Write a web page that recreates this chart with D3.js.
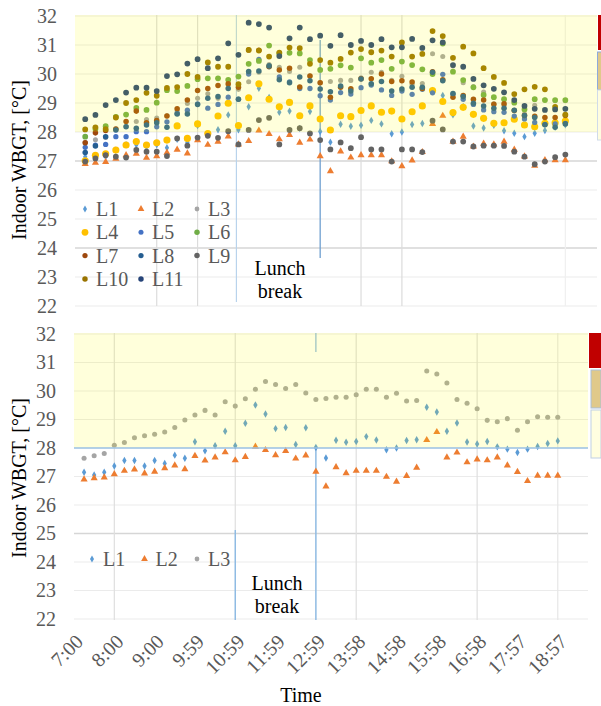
<!DOCTYPE html>
<html><head><meta charset="utf-8">
<script src="https://cdn.jsdelivr.net/npm/d3@7"></script>
<style>
body{margin:0;background:#fff}
svg text{font-family:"Liberation Serif","DejaVu Serif","Noto Serif",serif !important}
</style>
</head><body>
<svg id="c" width="601" height="706"></svg>
<script>
// ---- data ----
const tickLabels = ["7:00","8:00","9:00","9:59","10:59","11:59","12:59","13:58","14:58","15:58","16:58","17:57","18:57"];
const yTicks = [22,23,24,25,26,27,28,29,30,31,32];
const seriesNames = ["L1","L2","L3","L4","L5","L6","L7","L8","L9","L10","L11"];

const L1 = [27.15,27.05,27.15,27.37,27.56,27.56,27.37,27.56,27.46,27.75,27.64,28.22,27.90,28.08,28.59,28.08,28.87,29.51,29.19,28.68,28.72,28.12,28.71,28.02,27.65,28.27,28.20,28.23,28.40,28.28,27.94,28.00,28.26,28.29,29.43,29.26,28.59,28.88,28.21,28.14,28.23,28.04,27.96,27.84,27.96,28.05,28.16,28.25];
const L2 = [26.90,26.94,26.97,27.08,27.20,27.25,27.11,27.17,27.29,27.39,27.26,27.72,27.56,27.67,27.85,27.57,27.69,28.05,27.93,27.75,27.90,27.63,27.74,27.17,26.65,27.33,27.12,27.20,27.20,27.20,26.99,26.82,27.02,27.31,28.28,28.56,27.67,27.84,27.50,27.60,27.57,27.67,27.39,27.16,26.84,27.03,27.03,27.03];
const L3 = [27.64,27.73,27.81,28.10,28.19,28.36,28.43,28.48,28.56,28.72,28.98,29.16,29.32,29.16,29.62,29.47,29.73,30.06,30.33,30.23,30.09,30.23,29.93,29.70,29.74,29.78,29.78,29.87,30.06,30.06,29.78,29.92,29.65,29.67,30.70,30.60,30.28,29.70,29.57,29.38,28.97,28.92,29.03,28.62,28.92,29.10,29.08,29.08];
const L4 = [27.01,27.20,27.25,27.38,27.55,27.67,27.55,27.63,27.72,28.21,27.78,28.28,27.95,28.55,28.99,28.22,29.18,29.66,29.13,28.87,29.02,28.56,28.90,28.45,28.07,28.56,28.53,28.74,28.90,28.68,28.72,28.45,28.70,28.90,29.43,29.05,28.67,28.85,28.61,28.47,28.30,28.32,28.44,28.24,28.18,28.30,28.32,28.38];
const L5 = [27.47,27.55,27.57,27.84,27.84,28.01,28.01,28.18,28.35,28.64,28.75,28.97,28.82,28.95,29.20,29.13,30.00,30.50,30.25,29.90,29.73,29.50,29.50,29.25,29.10,29.36,29.31,29.53,29.62,29.45,29.26,29.41,29.30,29.47,29.35,29.99,29.30,29.13,28.95,28.76,28.70,28.68,28.55,28.45,28.33,28.26,28.28,28.30];
const L6 = [27.84,28.10,28.20,28.52,28.60,28.83,28.76,29.01,29.44,29.41,29.59,29.82,29.85,29.85,29.80,29.91,30.35,30.45,30.98,30.71,30.73,30.71,30.48,30.14,30.18,30.30,30.22,30.54,30.39,30.48,30.18,30.43,30.31,30.16,30.00,31.05,30.08,29.79,29.54,29.28,29.20,29.13,29.01,28.78,29.13,29.10,29.10,29.10];
const L7 = [27.63,27.97,28.05,28.10,28.36,28.72,28.32,28.40,28.55,28.80,29.10,29.43,29.50,29.60,29.66,29.54,30.83,30.82,30.26,30.14,30.20,29.55,29.93,29.70,29.20,29.54,29.49,29.84,29.84,30.00,29.74,29.77,29.72,29.50,30.08,29.80,29.20,29.26,29.13,29.10,28.96,28.97,28.74,28.57,28.54,28.50,28.50,28.57];
const L8 = [27.29,27.52,27.84,28.07,28.18,28.13,28.24,28.32,28.16,28.62,28.62,28.95,29.16,29.22,29.50,29.13,30.09,30.10,30.28,29.80,29.70,29.90,29.77,29.48,29.39,29.59,29.41,29.83,29.66,29.74,29.41,29.48,29.54,29.54,30.06,29.77,29.33,29.22,28.99,28.90,28.82,28.82,28.75,28.57,28.50,28.25,28.16,28.28];
const L9 = [26.98,27.09,27.20,27.15,27.12,27.38,27.32,27.32,27.17,27.78,27.53,27.81,27.87,27.80,28.03,27.57,28.07,28.41,28.49,27.57,28.07,28.13,27.95,27.72,27.40,27.64,27.44,27.82,27.40,27.40,26.98,27.40,27.40,27.31,28.39,28.09,27.67,27.67,27.50,27.53,27.53,27.52,27.32,27.15,26.89,26.98,27.13,27.22];
const L10 = [28.09,28.16,28.10,28.50,29.00,29.10,29.35,29.25,29.52,29.55,30.00,29.90,30.40,30.25,30.25,29.65,30.83,30.81,30.60,30.74,30.91,30.89,30.35,30.48,30.39,30.52,30.74,30.86,30.75,30.81,30.60,31.09,30.60,30.69,31.48,31.31,30.56,30.94,30.71,30.20,29.90,29.69,29.31,29.47,29.56,29.47,28.87,28.60];
const L11 = [28.44,28.59,28.93,29.10,29.36,29.53,29.53,29.41,29.93,29.99,30.36,30.51,30.20,30.54,31.06,30.66,31.77,31.72,31.60,30.62,31.23,31.60,31.20,31.32,30.97,31.34,31.00,31.14,31.00,31.20,30.92,30.92,31.21,30.90,31.16,31.09,30.31,30.25,29.83,29.61,29.49,29.37,29.10,28.90,28.80,28.76,28.78,28.80];

const seriesData = [L1,L2,L3,L4,L5,L6,L7,L8,L9,L10,L11];

// ---- styling ----
const FONT = "'Liberation Serif','DejaVu Serif','Noto Serif',serif";
const colors = ["#5B9BD5","#ED7D31","#A5A5A5","#FFC000","#4472C4","#70AD47","#9E480E","#255E91","#636363","#997300","#264478"];
const shapes = [d3.symbolDiamond,d3.symbolTriangle,d3.symbolCircle,d3.symbolCircle,d3.symbolCircle,d3.symbolCircle,d3.symbolCircle,d3.symbolCircle,d3.symbolCircle,d3.symbolCircle,d3.symbolCircle];
const sizes  = [16,22,20,40,22,26,24,24,26,26,26];

const svg = d3.select("#c");
const gray = "#595959";

function txt(sel){ return sel.attr("font-family",FONT).style("font-family",FONT).style("font-size","20px"); }

function drawPanel(p){
  const x = d3.scaleLinear().domain([0,51]).range(p.xr);
  const y = d3.scaleLinear().domain([22,32]).range(p.yr);
  const g = svg.append("g");

  g.selectAll("line.h").data(yTicks).join("line")
    .attr("x1",p.xr[0]).attr("x2",p.band[1])
    .attr("y1",d=>y(d)).attr("y2",d=>y(d))
    .attr("stroke",d=>p.strongGrid.includes(d)?"#d6d6d6":"#ebebeb")
    .attr("stroke-width",d=>p.strongGrid.includes(d)?1.5:1);

  p.vlines.forEach(v=>{
    g.append("line").attr("x1",x(v.i)).attr("x2",x(v.i))
      .attr("y1",v.y0).attr("y2",v.y1)
      .attr("stroke",v.c).attr("stroke-width",v.w||1.2);
  });

  p.series.forEach(si=>{
    const sym = d3.symbol().type(shapes[si]).size(sizes[si]);
    g.append("g").selectAll("path").data(seriesData[si]).join("path")
      .attr("d",sym)
      .attr("transform",(d,i)=>`translate(${x(i+1)},${y(d)})`)
      .attr("fill",colors[si]);
  });

  g.append("rect").attr("x",p.xr[0]).attr("y",y(32)-1)
    .attr("width",p.band[1]-p.xr[0]).attr("height",y(28)-y(32)+1)
    .attr("fill","#ffff00").attr("fill-opacity",0.14);

  if(p.blue28){
    g.append("line").attr("x1",p.xr[0]).attr("x2",p.band[1])
      .attr("y1",y(28)).attr("y2",y(28)).attr("stroke","#9dc3e6").attr("stroke-width",1.5);
  }

  p.boxes.forEach(b=>{
    g.append("rect").attr("x",b[0]).attr("y",b[1]).attr("width",b[2]).attr("height",b[3])
      .attr("fill",b[4]).attr("stroke",b[5]||"none").attr("stroke-width",1);
  });

  const ya = d3.axisLeft(y).tickValues(yTicks).tickSize(0).tickPadding(18).tickFormat(d3.format("d"));
  const yg = g.append("g").attr("transform",`translate(${p.xr[0]},0)`).call(ya);
  yg.select(".domain").remove();
  yg.attr("font-family",FONT);
  txt(yg.selectAll("text")).attr("fill",gray);

  txt(g.append("text")).attr("transform",`translate(26,${p.titleY}) rotate(-90)`)
    .attr("text-anchor","middle").attr("fill","#000")
    .text("Indoor WBGT, [°C]");

  txt(g.append("text")).attr("x",p.lunch[0]).attr("y",p.lunch[1]).attr("text-anchor","middle")
    .attr("fill","#000").text("Lunch");
  txt(g.append("text")).attr("x",p.lunch[0]).attr("y",p.lunch[1]+23).attr("text-anchor","middle")
    .attr("fill","#000").text("break");

  p.series.forEach((si,k)=>{
    const col=k%3,row=Math.floor(k/3);
    const mx=p.leg.x+col*p.leg.dx, my=p.leg.y+row*p.leg.dy;
    g.append("path").attr("d",d3.symbol().type(shapes[si]).size(sizes[si]*0.9)())
      .attr("transform",`translate(${mx},${my})`).attr("fill",colors[si]);
    txt(g.append("text")).attr("x",mx+11).attr("y",my+7).attr("fill",gray)
      .text(seriesNames[si]);
  });

  if(p.xaxis){
    const xa = d3.axisBottom(x).tickValues(d3.range(0,49,4)).tickSize(0)
      .tickFormat((d,i)=>tickLabels[i]);
    const xg = g.append("g").attr("transform",`translate(0,${y(22)})`).call(xa);
    xg.select(".domain").remove();
    xg.attr("font-family",FONT);
    txt(xg.selectAll("text")).attr("x",0).attr("y",0).attr("dy","0.35em")
      .attr("transform","translate(5,19) rotate(-45)")
      .attr("text-anchor","end").attr("fill",gray);
    txt(g.append("text")).attr("x",301).attr("y",702).attr("text-anchor","middle")
      .attr("fill","#000").text("Time");
  }
}

const lunchBlue = "#8fbbe3";
drawPanel({
  xr:[75,596], yr:[306,16], band:[75,597], series:[0,1,2,3,4,5,6,7,8,9,10],
  strongGrid:[24,27], blue28:false, titleY:160,
  vlines:[
    {i:8,y0:15,y1:306,c:"#dcdcdc"},{i:12,y0:15,y1:306,c:"#dcdcdc"},
    {i:28,y0:15,y1:306,c:"#dcdcdc"},{i:32,y0:15,y1:306,c:"#dcdcdc"},
    {i:48,y0:15,y1:306,c:"#f0f0f0"},
    {i:15.8,y0:15,y1:302,c:"#b9d3ec"},{i:24,y0:40,y1:258,c:"#6f9fd0",w:1.3}
  ],
  boxes:[[598,15,3,35,"#c00000"],[597.5,52,4,38,"#e0c98a","#8eaadb"],[597.5,90,4,50,"#fffde0","#d0dbe9"]],
  lunch:[280,275],
  leg:{x:85,y:209,dx:56,dy:23.3},
  xaxis:false
});
drawPanel({
  xr:[74,588], yr:[619,334], band:[74,588], series:[0,1,2],
  strongGrid:[25], blue28:true, titleY:478,
  vlines:[
    {i:4,y0:333,y1:620,c:"#dedede"},{i:28,y0:333,y1:620,c:"#dedede"},
    {i:40,y0:333,y1:620,c:"#dedede"},{i:48,y0:333,y1:620,c:"#e6e6e6"},
    {i:16,y0:333,y1:530,c:"#dedede"},{i:16,y0:530,y1:620,c:lunchBlue,w:1.5},
    {i:24,y0:333,y1:352,c:lunchBlue,w:1.3},{i:24,y0:448,y1:620,c:lunchBlue,w:1.5}
  ],
  boxes:[[589,333,12,35,"#c00000"],[591,370,10,38,"#e0c98a","#a9bfdc"],[591,410,10,48,"#fffee0","#c0cfe4"]],
  lunch:[277,590],
  leg:{x:92,y:559,dx:52.5,dy:23},
  xaxis:true
});
</script>
</body></html>
